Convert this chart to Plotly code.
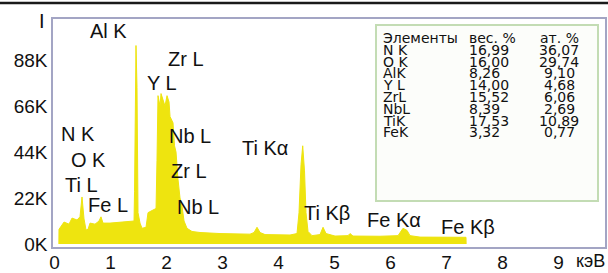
import plotly.graph_objects as go

# ---- data -------------------------------------------------------------
energy_kev = [0.078, 0.080, 0.170, 0.259, 0.313, 0.402, 0.455, 0.491, 0.527, 0.563,
              0.598, 0.634, 0.723, 0.795, 0.830, 0.866, 0.991, 1.170, 1.348, 1.420,
              1.429, 1.446, 1.455, 1.473, 1.491, 1.527, 1.563, 1.634, 1.670, 1.741,
              1.813, 1.830, 1.848, 1.884, 1.902, 1.938, 1.973, 2.009, 2.045, 2.063,
              2.116, 2.143, 2.170, 2.205, 2.241, 2.277, 2.313, 2.366, 2.455, 2.598,
              2.955, 3.491, 3.563, 3.616, 3.670, 3.759, 4.205, 4.330, 4.366, 4.402,
              4.432, 4.464, 4.491, 4.527, 4.598, 4.741, 4.795, 4.848, 5.009, 5.241,
              5.277, 5.330, 5.813, 6.134, 6.223, 6.295, 6.348, 6.527, 6.884, 7.348,
              7.350]
counts_k = [0, 7, 10.5, 9.5, 12.4, 11.5, 13, 22.5, 12, 6.7,
            7, 10, 9.5, 11, 13, 10, 10, 10.3, 10.8, 11,
            25, 80, 95, 75, 15, 10, 7.5, 8, 15, 16,
            17, 40, 71, 66, 72, 69, 66, 71, 68, 61,
            58, 47, 44, 31, 22, 18, 11, 7.5, 6, 5.5,
            5, 4.7, 5.5, 8, 5.5, 4.5, 4.3, 5, 15, 38,
            47, 35, 15, 6, 4, 4.5, 8, 5, 3.8, 4,
            5, 3.8, 3.7, 4, 7.5, 6.5, 4, 3.3, 3.2, 3.2,
            0]

y_tick_vals = [0, 22, 44, 66, 88]
y_tick_text = ["0K", "22K", "44K", "66K", "88K"]
x_tick_vals = [0, 1, 2, 3, 4, 5, 6, 7, 8, 9]

peak_labels = ["Al K", "Zr L", "Y L", "N K", "Nb L", "O K", "Zr L", "Ti L",
               "Fe L", "Nb L", "Ti K\u03b1", "Ti K\u03b2", "Fe K\u03b1", "Fe K\u03b2"]
peak_label_px = [(108, 31), (186, 59), (162, 83), (78, 134), (190, 136), (88, 160),
                 (189, 171), (81, 185), (108, 205), (198, 207), (265, 148),
                 (327, 213), (394, 220), (468, 227)]

table_header = ["Элементы", "вес. %", "ат. %"]
table_elements = ["N K", "O K", "AlK", "Y L", "ZrL", "NbL", "TiK", "FeK"]
table_wt = ["16,99", "16,00", "8,26", "14,00", "15,52", "8,39", "17,53", "3,32"]
table_at = ["36,07", "29,74", "9,10", "4,68", "6,06", "2,69", "10,89", "0,77"]

# ---- layout geometry ----------------------------------------------------
W, H = 608, 273
L, R, T, B = 53, 3, 19, 26
PW, PH = W - L - R, H - T - B


def px2paper(px, py):
    return (px - L) / PW, (H - B - py) / PH


FONT = "Arial"
TFONT = "DejaVu Sans"
YELLOW = "#eee40f"

fig = go.Figure()
fig.add_trace(go.Scatter(
    x=energy_kev, y=counts_k, mode="lines", fill="tozeroy",
    line=dict(color=YELLOW, width=1), fillcolor=YELLOW, hoverinfo="skip",
    showlegend=False))

annotations = []
for txt, (px, py) in zip(peak_labels, peak_label_px):
    ax, ay = px2paper(px, py)
    annotations.append(dict(text=txt, x=ax, y=ay, xref="paper", yref="paper",
                            showarrow=False, xanchor="center", yanchor="middle",
                            font=dict(family=FONT, size=20, color="#111")))

# table
row_y = [38, 50, 62, 73, 85, 97, 109, 121, 132]
rows = [table_header] + [list(r) for r in zip(table_elements, table_wt, table_at)]
col_specs = [(382, "left"), (468, "left"), (559, "center")]
for ry, row in zip(row_y, rows):
    for (cx, anchor), txt in zip(col_specs, row):
        ax, ay = px2paper(cx, ry)
        annotations.append(dict(text=txt, x=ax, y=ay, xref="paper", yref="paper",
                                showarrow=False, xanchor=anchor, yanchor="middle",
                                borderpad=0,
                                font=dict(family=TFONT, size=14, color="#111")))

ix, iy = px2paper(42, 21)
annotations.append(dict(text="I", x=ix, y=iy, xref="paper", yref="paper",
                        showarrow=False, xanchor="center", yanchor="middle",
                        font=dict(family=FONT, size=20, color="#111")))
ux, uy = px2paper(590, 261)
annotations.append(dict(text="кэВ", x=ux, y=uy, xref="paper", yref="paper",
                        showarrow=False, xanchor="center", yanchor="middle",
                        font=dict(family=FONT, size=18, color="#111")))

bx0, by0 = px2paper(376, 201)
bx1, by1 = px2paper(598, 25)
lx0, ly = px2paper(0, 3)
lx1, _ = px2paper(608, 3)
shapes = [
    dict(type="rect", xref="paper", yref="paper", x0=bx0, y0=by0, x1=bx1, y1=by1,
         line=dict(color="#c3dcb4", width=2), fillcolor="rgba(252,253,250,1)",
         layer="above"),
    dict(type="rect", xref="paper", yref="paper", x0=lx0, x1=lx1,
         y0=ly - 0.005, y1=ly + 0.005, line=dict(width=0),
         fillcolor="#1a1a1a", layer="above"),
]

fig.update_layout(
    width=W, height=H, margin=dict(l=L, r=R, t=T, b=B, pad=0),
    paper_bgcolor="white", plot_bgcolor="white",
    annotations=annotations, shapes=shapes,
    xaxis=dict(range=[-0.027, 9.83], tickvals=x_tick_vals, showgrid=False,
               zeroline=False, showline=True, mirror=True, linecolor="#a3a5c4",
               linewidth=1.5, ticks="", automargin=False, ticklabelstandoff=-3,
               tickfont=dict(family=FONT, size=19, color="#111")),
    yaxis=dict(range=[-1.44, 107.7], tickvals=y_tick_vals, ticktext=y_tick_text,
               showgrid=False, zeroline=False, showline=True, mirror=True,
               linecolor="#a3a5c4", linewidth=1.5, ticks="", automargin=False,
               tickfont=dict(family=FONT, size=19, color="#111")),
)

fig.write_html("out.html", config={"displayModeBar": False},
               post_script="document.body.style.margin='0';"
                           "document.body.style.overflow='hidden';")
